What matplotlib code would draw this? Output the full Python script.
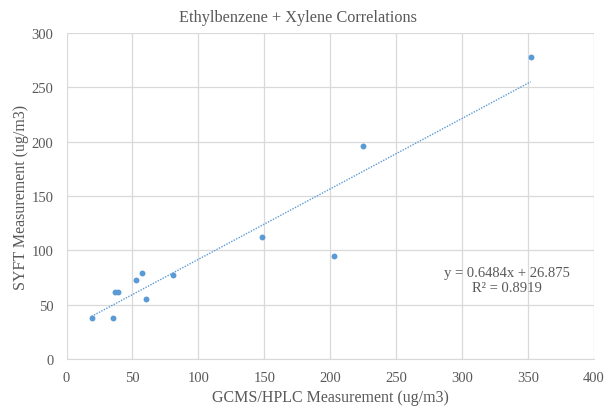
import numpy as np
import matplotlib
matplotlib.use("Agg")
import matplotlib.pyplot as plt

# GCMS/HPLC (x) vs SYFT (y), ug/m3
gcms = [19, 35, 37, 39, 53, 57, 60, 81, 148, 203, 225, 352]
syft = [38, 38, 62, 62, 73, 79, 55, 77, 112, 95, 196, 278]
slope, intercept = 0.6484, 26.875
r2 = 0.8919

blue = "#5B9BD5"
grey = "#595959"
plt.rcParams["font.family"] = ["Liberation Serif", "DejaVu Serif"]

fig = plt.figure(figsize=(6.14, 4.10), dpi=100)
ax = fig.add_axes([66.5 / 614, 50 / 410, 527.5 / 614, 326 / 410])

ax.scatter(gcms, syft, s=18, color=blue, zorder=3, linewidths=0)
xs = np.array([min(gcms), max(gcms)])
ax.plot(xs, slope * xs + intercept, color=blue, lw=1.0, ls=(0, (1, 1)), zorder=2)

ax.set_xlim(0, 400)
ax.set_ylim(0, 300)
ax.set_xticks(range(0, 401, 50))
ax.set_yticks(range(0, 301, 50))
ax.grid(color="#D9D9D9", lw=0.9)
ax.set_axisbelow(True)
for side in ["top", "right", "left"]:
    ax.spines[side].set_visible(False)
ax.spines["bottom"].set_color("#D9D9D9")
ax.tick_params(length=0, labelsize=10.5, colors=grey)
ax.tick_params(axis="x", pad=9)
ax.tick_params(axis="y", pad=9.5)

# chart title is centred over the whole chart area, not the plot area
fig.text(298 / 614, 1 - 18.5 / 410, "Ethylbenzene + Xylene Correlations",
         ha="center", va="center", fontsize=11.7, color=grey)
ax.set_xlabel("GCMS/HPLC Measurement (ug/m3)", fontsize=11.5, color=grey, labelpad=3)
ax.set_ylabel("SYFT Measurement (ug/m3)", fontsize=11.5, color=grey, labelpad=2)

ax.text(0.835, 0.243, f"y = {slope}x + {intercept}\nR² = {r2}", transform=ax.transAxes,
        ha="center", va="center", fontsize=10.5, color=grey, linespacing=1.2)

fig.savefig("out.png", dpi=100)
